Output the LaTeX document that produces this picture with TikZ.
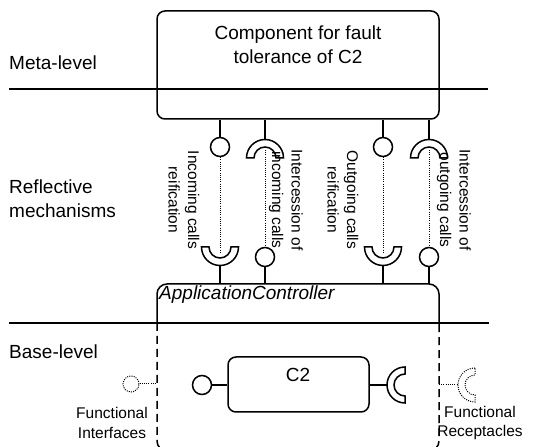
\documentclass[tikz,border=0pt]{standalone}
\usepackage{fontspec}
\setmainfont{Liberation Sans}
\begin{document}
\begin{tikzpicture}[x=1pt,y=1pt,
  big/.style={font=\fontsize{19}{24}\selectfont, inner sep=0pt},
  small/.style={font=\fontsize{15.5}{19.5}\selectfont, inner sep=0pt},
  thickl/.style={line width=1.5pt},
  dotl/.style={line width=1pt, dash pattern=on 1pt off 1.2pt},
  dashl/.style={line width=1.5pt, dash pattern=on 8pt off 5pt},
  lolli/.style={draw, circle, thickl, minimum size=19pt, inner sep=0pt},
  dlolli/.style={draw, circle, dotl, minimum size=16pt, inner sep=0pt},
  boxst/.style={draw, thickl, rounded corners=8pt, inner sep=0pt},
  sockdown/.pic={\draw[thickl] (-18.5,0) arc[start angle=180,end angle=0,radius=18.5] -- (11,0) arc[start angle=0,end angle=180,radius=11] -- cycle;},
  sockup/.pic={\draw[thickl] (-18.5,0) arc[start angle=180,end angle=360,radius=18.5] -- (11,0) arc[start angle=0,end angle=-180,radius=11] -- cycle;},
  sockright/.pic={\draw[thickl] (0,18) arc[start angle=90,end angle=270,radius=18] -- (0,-11) arc[start angle=270,end angle=90,radius=11] -- cycle;},
  dsockright/.pic={\draw[dotl] (0,17) arc[start angle=90,end angle=270,radius=17] -- (0,-10) arc[start angle=270,end angle=90,radius=10] -- cycle;}
]
\useasboundingbox (0,0) rectangle (542,447);
\clip (0,0) rectangle (542,447);

% meta-level component
\node[boxst, minimum width=282pt, minimum height=108pt] (meta) at (298,382) {};
\node[big, align=center] (metatext) at (298,402) {Component for fault\\tolerance of C2};

% level separators
\coordinate (l1a) at (9,358); \coordinate (l1b) at (488,358);
\coordinate (l2a) at (9,124); \coordinate (l2b) at (489,124);
\draw[thickl] (l1a) -- (l1b);
\draw[thickl] (l2a) -- (l2b);

% level labels
\node[big, anchor=west] (lmeta) at (9,384) {Meta-level};
\node[big, anchor=west, align=left] (lrefl) at (9,248) {Reflective\\mechanisms};
\node[big, anchor=west] (lbase) at (9,95) {Base-level};

% ApplicationController box
\coordinate (ac1) at (157,124); \coordinate (ac2) at (439,124);
\draw[thickl] (ac1) -- (157,153) arc[start angle=180,end angle=90,radius=10] -- (429,163) arc[start angle=90,end angle=0,radius=10] -- (ac2);
\draw[dashl, rounded corners=10pt] (ac1) -- (157,-4) -- (439,-4) -- (ac2);
\node[big, anchor=west, font=\fontsize{19}{24}\selectfont\itshape] (actext) at (159,152) {ApplicationController};

% column A: incoming calls reification (x=220)
\node[lolli] (ia) at (220,300) {};
\coordinate (sa) at (220,181.5);
\pic at (220,200) {sockup};
\coordinate (sai) at (220,194);
\coordinate (aa) at (220,163);
\draw[thickl] (meta.south -| ia) -- (ia.north);
\draw[dotl] (ia.south) -- (sai);
\draw[thickl] (sa) -- (aa);

% column B: intercession of incoming calls (x=265)
\coordinate (sb) at (265,307.5);
\pic at (265,289) {sockdown};
\coordinate (sbi) at (265,297);
\node[lolli] (ib) at (265,190) {};
\coordinate (ab) at (265,163);
\draw[thickl] (meta.south -| sb) -- (sb);
\draw[dotl] (sbi) -- (ib.north);
\draw[thickl] (ib.south) -- (ab);

% column C: outgoing calls reification (x=383)
\node[lolli] (ic) at (383,300) {};
\coordinate (sc) at (383,181.5);
\pic at (383,200) {sockup};
\coordinate (sci) at (383,194);
\coordinate (ac) at (383,163);
\draw[thickl] (meta.south -| ic) -- (ic.north);
\draw[dotl] (ic.south) -- (sci);
\draw[thickl] (sc) -- (ac);

% column D: intercession of outgoing calls (x=429)
\coordinate (sd) at (429,307.5);
\pic at (429,289) {sockdown};
\coordinate (sdi) at (429,297);
\node[lolli] (id) at (429,190) {};
\coordinate (ad) at (429,163);
\draw[thickl] (meta.south -| sd) -- (sd);
\draw[dotl] (sdi) -- (id.north);
\draw[thickl] (id.south) -- (ad);

% rotated labels
\node[small, rotate=-90, align=center] (la) at (184,247) {Incoming calls\\reification};
\node[small, rotate=-90, align=center] (lb) at (286,247) {Intercession of\\incoming calls};
\node[small, rotate=-90, align=center] (lc) at (343,247) {Outgoing calls\\reification};
\node[small, rotate=-90, align=center] (ld) at (454,247) {Intercession of\\outgoing calls};

% C2 component
\node[boxst, minimum width=141pt, minimum height=55pt] (c2) at (298.5,62.5) {};
\node[big] (c2text) at (298,72) {C2};
\node[lolli] (fi) at (202,62) {};
\draw[thickl] (fi.east) -- (fi.east -| c2.west);
\coordinate (rs) at (387,62);
\pic at (405,62) {sockright};
\draw[thickl] (c2.east |- rs) -- (rs);

% functional interfaces / receptacles (dotted)
\node[dlolli] (dfi) at (131,63) {};
\coordinate (dfe) at (157,63);
\draw[dotl] (dfi.east) -- (dfe);
\coordinate (drs) at (458,62);
\coordinate (drb) at (439,62);
\pic at (475,62) {dsockright};
\draw[dotl] (drb) -- (drs);

\node[small, align=center] (lfi) at (112,24) {Functional\\Interfaces};
\node[small, align=center] (lfr) at (480,24) {Functional\\Receptacles};
\end{tikzpicture}
\end{document}
